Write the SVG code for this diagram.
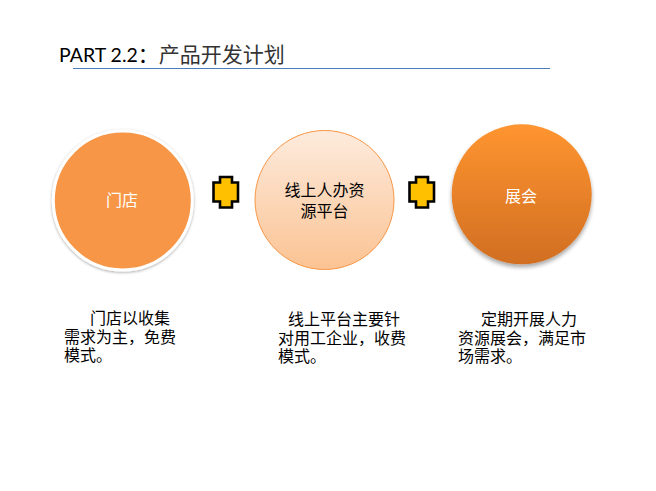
<svg xmlns="http://www.w3.org/2000/svg" width="656" height="491" viewBox="0 0 656 491">
<style>
.t{font-family:"Noto Sans CJK SC","Liberation Sans",sans-serif;font-size:16px;fill:#000}
.w{fill:#fff}
.c{text-anchor:middle}
.plus{fill:#FFC000;stroke:#000;stroke-width:2.6;stroke-linejoin:miter}
</style>
<defs>
<linearGradient id="g2" x1="0" y1="0" x2="0" y2="1">
<stop offset="0" stop-color="#FDEBDD"/>
<stop offset="1" stop-color="#FBC393"/>
</linearGradient>
<linearGradient id="g3" x1="0" y1="0" x2="0" y2="1">
<stop offset="0" stop-color="#FF9530"/>
<stop offset="1" stop-color="#D16E22"/>
</linearGradient>
<filter id="sh1" x="-20%" y="-20%" width="140%" height="140%">
<feGaussianBlur in="SourceAlpha" stdDeviation="1.5"/>
<feOffset dx="0" dy="1" result="b"/>
<feComponentTransfer><feFuncA type="linear" slope="0.35"/></feComponentTransfer>
<feMerge><feMergeNode/><feMergeNode in="SourceGraphic"/></feMerge>
</filter>
<filter id="sh3" x="-20%" y="-20%" width="140%" height="140%">
<feGaussianBlur in="SourceAlpha" stdDeviation="2"/>
<feOffset dx="0" dy="3" result="b"/>
<feComponentTransfer><feFuncA type="linear" slope="0.35"/></feComponentTransfer>
<feMerge><feMergeNode/><feMergeNode in="SourceGraphic"/></feMerge>
</filter>
<path id="cross" d="M-6,-15.5 H6 V-10 H12 V9 H6 V15 H-6 V9 H-12.5 V-10 H-6 Z"/>
</defs>
<rect width="656" height="491" fill="#fff"/>

<g id="title">
<text x="59" y="62" font-family="Lato,'Liberation Sans',sans-serif" font-size="19.5" fill="#000">PART 2.2<tspan font-family="'Noto Sans CJK SC',sans-serif" font-size="21">：</tspan><tspan font-family="'Noto Sans CJK SC',sans-serif" font-size="21" fill="#333">产品开发计划</tspan></text>
<line x1="73" y1="68.5" x2="550" y2="68.5" stroke="#4A7EBB" stroke-width="1"/>
</g>

<g id="connectors">
<use href="#cross" class="plus" x="226" y="192.5"/>
<use href="#cross" class="plus" x="422" y="192.5"/>
</g>

<g id="node-store">
<circle cx="122.8" cy="200.5" r="69.5" fill="#F79646" stroke="#fff" stroke-width="3" filter="url(#sh1)"/>
<text class="t w c" x="122" y="206">门店</text>
</g>

<g id="node-online">
<circle cx="324.5" cy="200" r="69.5" fill="url(#g2)" stroke="#F79646" stroke-width="1"/>
<text class="t c"><tspan x="324.5" y="195.5">线上人办资</tspan><tspan x="324.5" y="216.5">源平台</tspan></text>
</g>

<g id="node-fair">
<circle cx="521.7" cy="194.3" r="70" fill="url(#g3)" filter="url(#sh3)"/>
<text class="t w c" x="521" y="201.5">展会</text>
</g>

<g id="desc-store">
<text class="t"><tspan x="90" y="324">门店以收集</tspan><tspan x="64" y="342.5">需求为主，免费</tspan><tspan x="64" y="360.5">模式。</tspan></text>
</g>

<g id="desc-online">
<text class="t"><tspan x="288" y="325">线上平台主要针</tspan><tspan x="278" y="343.5">对用工企业，收费</tspan><tspan x="278" y="362">模式。</tspan></text>
</g>

<g id="desc-fair">
<text class="t"><tspan x="481" y="325">定期开展人力</tspan><tspan x="458" y="343.5">资源展会，满足市</tspan><tspan x="458" y="362">场需求。</tspan></text>
</g>
</svg>
